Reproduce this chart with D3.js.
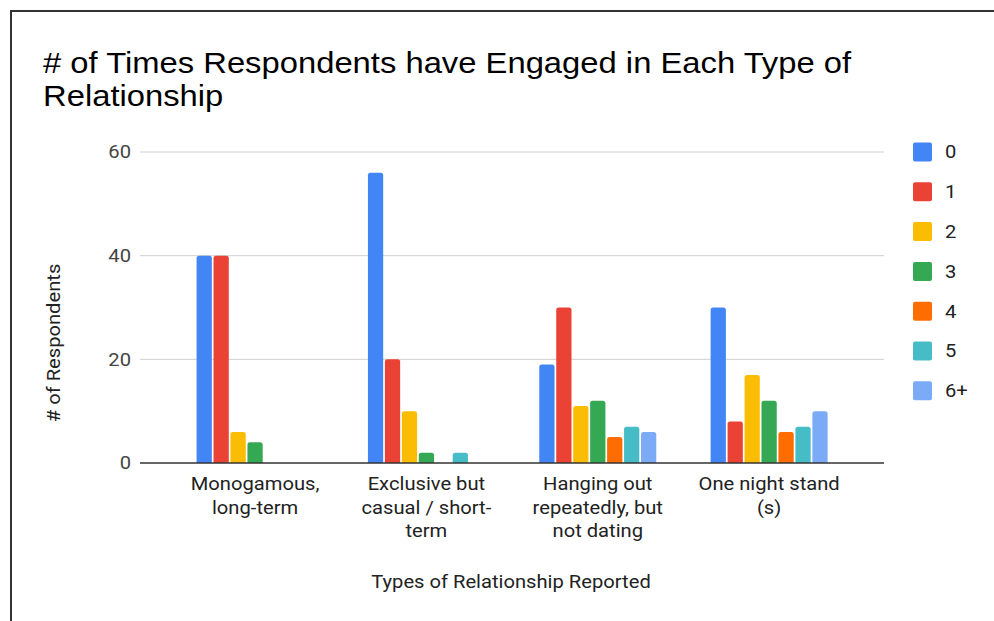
<!DOCTYPE html>
<html lang="en">
<head>
<meta charset="UTF-8">
<title># of Times Respondents have Engaged in Each Type of Relationship</title>
<script src="https://d3js.org/d3.v7.min.js"></script>
<style>
  body { margin: 0; background: #fff; }
  svg { display: block; }
</style>
</head>
<body>
<div id="chart"></div>
<script>
// categories on the x axis (each one may wrap onto several lines)
var categories = [
  ["Monogamous,", "long-term"],
  ["Exclusive but", "casual / short-", "term"],
  ["Hanging out", "repeatedly, but", "not dating"],
  ["One night stand", "(s)"]
]
var seriesNames = ["0", "1", "2", "3", "4", "5", "6+"]
var seriesColors = ["#4285f4", "#ea4335", "#fbbc04", "#34a853", "#ff6d01", "#46bdc6", "#7baaf7"]

// values per category, one entry per series (null = no bar)
var monogamous = [40, 40, 6, 4, null, null, null]
var exclusiveCasual = [56, 20, 10, 2, null, 2, null]
var hangingOut = [19, 30, 11, 12, 5, 7, 6]
var oneNightStand = [30, 8, 17, 12, 6, 7, 10]
var yTicks = [0, 20, 40, 60]

var values = [monogamous, exclusiveCasual, hangingOut, oneNightStand]

var width = 994
var height = 621

var svg = d3.select("#chart")
  .append("svg")
    .attr("width", width)
    .attr("height", height)

// the screenshot text is a bit wider than the installed fonts, so stretch it horizontally
function stretch(sel, ax, ay, sx) {
  sel.attr("transform", "translate(" + ax + "," + ay + ") scale(" + sx + ",1) translate(" + (-ax) + "," + (-ay) + ")")
}

// frame (top and left edges only are visible)
svg.append("path")
  .attr("d", "M11,621 V11 H994")
  .attr("fill", "none")
  .attr("stroke", "#333")
  .attr("stroke-width", 2)

// title
var title = svg.append("text")
  .style("font-family", "'Liberation Sans', Arial, sans-serif")
  .style("font-size", "29px")
  .attr("fill", "#000")
title.append("tspan").attr("x", 43).attr("y", 73).text("# of Times Respondents have Engaged in Each Type of")
title.append("tspan").attr("x", 43).attr("y", 106).text("Relationship")
stretch(title, 43, 0, 1.13)

// scales
var plotLeft = 140, plotRight = 884
var y = d3.scaleLinear()
  .domain([0, 60])
  .range([463, 152])

var x0 = d3.scaleBand()
  .domain(d3.range(categories.length))
  .range([169.4, 854.8])

var x1 = d3.scaleBand()
  .domain(d3.range(seriesNames.length))
  .range([-58.5, 58.5])
  .paddingInner(0.1)

var font = "Roboto, 'Liberation Sans', Arial, sans-serif"
var fs = "18px"
var sx = 1.12

// gridlines
svg.append("g")
  .selectAll("line")
  .data(yTicks.filter(function(d){ return d > 0 }))
  .enter()
  .append("line")
    .attr("x1", plotLeft)
    .attr("x2", plotRight)
    .attr("y1", function(d){ return y(d) })
    .attr("y2", function(d){ return y(d) })
    .attr("stroke", "#d0d0d0")
    .attr("stroke-width", 1)

// y tick labels
svg.append("g")
  .selectAll("text")
  .data(yTicks)
  .enter()
  .append("text")
    .attr("x", 131)
    .attr("y", function(d){ return y(d) })
    .attr("dy", "0.35em")
    .attr("text-anchor", "end")
    .style("font-family", font)
    .style("font-size", fs)
    .attr("fill", "#444")
    .text(function(d){ return d })
    .each(function(){ stretch(d3.select(this), 131, 0, sx) })

// bars with rounded tops
function barPath(xl, w, yTop, yBase) {
  var r = Math.min(2.5, (yBase - yTop) / 2)
  return "M" + xl + "," + yBase +
    "V" + (yTop + r) +
    "Q" + xl + "," + yTop + " " + (xl + r) + "," + yTop +
    "H" + (xl + w - r) +
    "Q" + (xl + w) + "," + yTop + " " + (xl + w) + "," + (yTop + r) +
    "V" + yBase + "Z"
}

var groups = svg.append("g")
  .selectAll("g")
  .data(values)
  .enter()
  .append("g")
    .attr("transform", function(d, i){ return "translate(" + (x0(i) + x0.bandwidth() / 2) + ",0)" })

groups.selectAll("path")
  .data(function(d){ return d.map(function(v, j){ return {v: v, j: j} }).filter(function(e){ return e.v != null }) })
  .enter()
  .append("path")
    .attr("d", function(e){ return barPath(x1(e.j), x1.bandwidth(), y(e.v), y(0)) })
    .attr("fill", function(e){ return seriesColors[e.j] })

// baseline
svg.append("line")
  .attr("x1", plotLeft)
  .attr("x2", plotRight)
  .attr("y1", y(0))
  .attr("y2", y(0))
  .attr("stroke", "#333")
  .attr("stroke-width", 1.5)

// category labels
var catLabels = svg.append("g")
  .selectAll("text")
  .data(categories)
  .enter()
  .append("text")
    .attr("text-anchor", "middle")
    .style("font-family", font)
    .style("font-size", fs)
    .attr("fill", "#222")
    .each(function(d, i){ stretch(d3.select(this), x0(i) + x0.bandwidth() / 2, 0, sx) })

catLabels.selectAll("tspan")
  .data(function(d, i){ return d.map(function(line){ return {line: line, i: i} }) })
  .enter()
  .append("tspan")
    .attr("x", function(d){ return x0(d.i) + x0.bandwidth() / 2 })
    .attr("y", function(d, k){ return 490.5 + k * 23.5 })
    .text(function(d){ return d.line })

// axis titles
var xTitle = svg.append("text")
  .attr("x", 511)
  .attr("y", 588)
  .attr("text-anchor", "middle")
  .style("font-family", font)
  .style("font-size", fs)
  .attr("fill", "#222")
  .text("Types of Relationship Reported")
stretch(xTitle, 511, 0, sx)

svg.append("text")
  .attr("transform", "translate(60,343) rotate(-90) scale(" + sx + ",1)")
  .attr("text-anchor", "middle")
  .style("font-family", font)
  .style("font-size", fs)
  .attr("fill", "#222")
  .text("# of Respondents")

// legend
var legend = svg.append("g")
  .selectAll("g")
  .data(seriesNames)
  .enter()
  .append("g")
    .attr("transform", function(d, i){ return "translate(913," + (152 + i * 39.8) + ")" })

legend.append("rect")
  .attr("x", 0)
  .attr("y", -9.5)
  .attr("width", 19)
  .attr("height", 19)
  .attr("rx", 2)
  .attr("fill", function(d, i){ return seriesColors[i] })

legend.append("text")
  .attr("x", 32)
  .attr("dy", "0.35em")
  .style("font-family", font)
  .style("font-size", fs)
  .attr("fill", "#222")
  .text(function(d){ return d })
  .each(function(){ stretch(d3.select(this), 32, 0, sx) })
</script>
</body>
</html>
